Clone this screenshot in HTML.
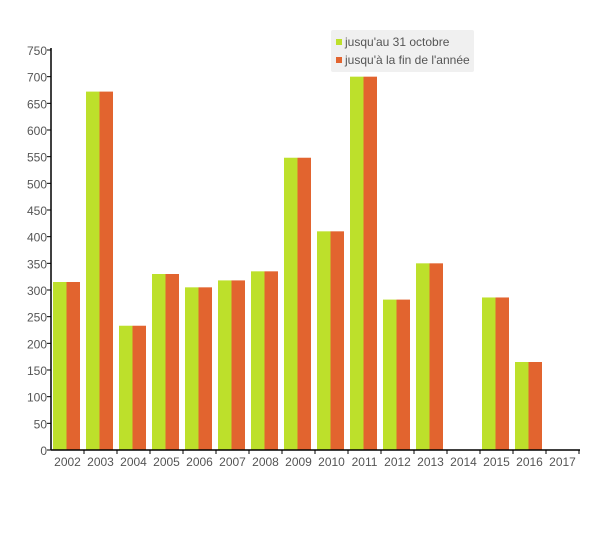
<!DOCTYPE html>
<html><head><meta charset="utf-8"><style>
body{margin:0;background:#fff;}
svg text{font-family:"Liberation Sans",sans-serif;fill:#555;}
</style></head><body>
<svg width="600" height="550">
<g id="bars"></g><g id="axes"></g>
<g>
<rect x="331" y="30" width="143" height="42" fill="#f0f0f0" rx="2"/>
<rect x="336" y="39" width="6" height="6" fill="#bde02b"/>
<text x="345" y="46" font-size="12">jusqu'au 31 octobre</text>
<rect x="336" y="57" width="6" height="6" fill="#e2642f"/>
<text x="345" y="64" font-size="12">jusqu'à la fin de l'année</text>
</g>
</svg>
<script>
const years=["2002","2003","2004","2005","2006","2007","2008","2009","2010","2011","2012","2013","2014","2015","2016","2017"];
const octValues=[315,672,233,330,305,318,335,548,410,700,282,350,0,286,165,0];
const yearValues=[315,672,233,330,305,318,335,548,410,700,282,350,0,286,165,0];
const yTicks=[0,50,100,150,200,250,300,350,400,450,500,550,600,650,700,750];
const NS="http://www.w3.org/2000/svg";
const x0=51,slot=33,yBase=450,yTop=50,yMax=750;
const y=v=>yBase-v/yMax*(yBase-yTop);
const xs=i=>x0+i*slot;
const bars=document.getElementById('bars'),axes=document.getElementById('axes');
function mk(tag,attrs,parent){const e=document.createElementNS(NS,tag);for(const k in attrs)e.setAttribute(k,attrs[k]);parent.appendChild(e);return e;}
years.forEach((yr,i)=>{
  if(octValues[i]>0){
    const a=mk('rect',{x:xs(i)+2,y:y(octValues[i]),width:13.5,height:yBase-y(octValues[i]),fill:'#bde02b'},bars);
    
    
  }
  if(yearValues[i]>0){
    const b=mk('rect',{x:xs(i)+15.5,y:y(yearValues[i]),width:13.5,height:yBase-y(yearValues[i]),fill:'#e2642f'},bars);
    
    
  }
  const t=mk('text',{x:xs(i)+16.5,y:466,'font-size':12,'text-anchor':'middle'},axes);
  t.textContent=yr;
  
  
  const tk=mk('line',{x1:xs(i+1),x2:xs(i+1),y1:yBase,y2:yBase+4,stroke:'#000'},axes);
  
  
});
yTicks.forEach(v=>{
  const l=mk('line',{x1:47,x2:51,y1:y(v),y2:y(v),stroke:'#000'},axes);
  
  
  const t=mk('text',{x:47,y:y(v)+5,'font-size':12,'text-anchor':'end'},axes);
  t.textContent=v;
  
  
});
const ya=mk('line',{x1:51,x2:51,y1:yTop-2,y2:yBase,stroke:'#000','stroke-width':1.5},axes);


const xa=mk('line',{x1:51,x2:580,y1:yBase,y2:yBase,stroke:'#000','stroke-width':1.5},axes);


</script>
</body></html>
